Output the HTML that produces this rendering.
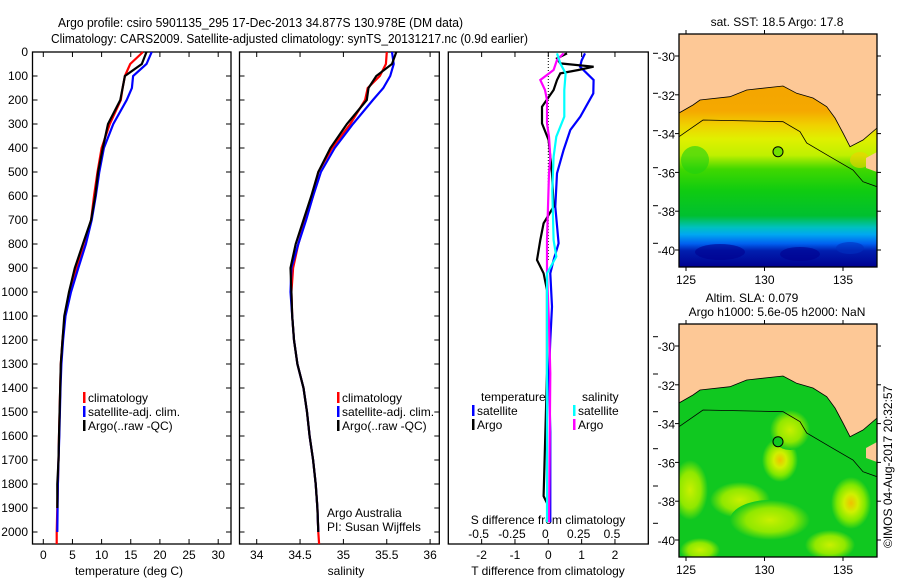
<!DOCTYPE html>
<html><head><meta charset="utf-8">
<style>
html,body{margin:0;padding:0;background:#fff;}
svg{display:block;font-family:"Liberation Sans",sans-serif;}
text{fill:#000;}
</style></head>
<body>
<svg id="chart" width="900" height="580" viewBox="0 0 900 580" xmlns="http://www.w3.org/2000/svg">
<text x="58" y="27" font-size="13" textLength="405" lengthAdjust="spacingAndGlyphs">Argo profile: csiro 5901135_295 17-Dec-2013 34.877S 130.978E (DM data)</text>
<text x="51" y="43" font-size="13" textLength="477" lengthAdjust="spacingAndGlyphs">Climatology: CARS2009. Satellite-adjusted climatology: synTS_20131217.nc (0.9d earlier)</text>
<g id="p1"></g>
<g id="p2"></g>
<g id="p3"></g>
<g id="m1"></g>
<g id="m2"></g>
<text transform="translate(892,548) rotate(-90)" font-size="12">©IMOS 04-Aug-2017 20:32:57</text>
</svg>
<script>
// ---------- data ----------
const depthLevels = [0,50,100,150,200,300,400,500,600,700,800,900,1000,1100,1200,1300,1400,1500,1600,1700,1800,1900,2000,2050];
const tempArgo = [17.7,16.9,14.0,13.6,13.2,11.1,10.2,9.4,8.9,8.2,6.8,5.4,4.4,3.6,3.3,3.0,2.9,2.8,2.7,2.6,2.4,2.4,null,null];
const tempClim = [17.1,14.9,14.0,13.6,13.3,11.4,10.0,9.3,8.7,8.2,7.2,5.7,4.6,3.7,3.3,3.0,2.9,2.8,2.7,2.6,2.5,2.4,2.3,2.3];
const tempSat  = [18.6,17.7,15.4,15.2,14.3,12.0,10.4,9.6,9.0,8.3,7.3,6.0,4.75,3.8,3.4,3.1,2.95,2.85,2.75,2.6,2.5,2.45,2.4,null];
const salArgo = [35.61,35.56,35.38,35.29,35.27,35.04,34.85,34.71,34.63,34.54,34.45,34.39,34.40,34.41,34.43,34.47,34.54,34.58,34.61,34.65,34.68,34.70,34.71,null];
const salClim = [35.50,35.49,35.42,35.28,35.25,35.08,34.87,34.71,34.65,34.56,34.48,34.42,34.40,34.41,34.43,34.47,34.54,34.58,34.61,34.65,34.68,34.70,34.71,34.72];
const salSat  = [35.56,35.58,35.54,35.46,35.34,35.11,34.90,34.74,34.65,34.57,34.48,34.40,34.39,34.41,34.43,34.47,34.54,34.58,34.61,34.65,34.68,34.70,34.71,null];
// difference panel
const dTsatDepth = [10,40,66,122,178,276,332,416,514,654,808,878,934,1074,1214,1354,1600,1980];
const dTsat      = [1.1,1.0,0.95,1.36,1.35,0.96,0.66,0.46,0.26,0.21,0.31,0.16,0.06,0.11,0.06,0.02,0.06,0.06];
const dTargoDepth = [10,31,52,66,80,94,122,164,234,304,374,514,654,724,794,878,934,1004,1144,1354,1870,1900];
const dTargo      = [0.56,0.26,0.36,1.36,0.9,0.36,0.26,0.16,-0.19,-0.19,0.01,0.11,0.16,-0.14,-0.24,-0.34,-0.14,-0.04,-0.04,-0.04,-0.14,-0.04];
const dSsatDepth = [10,52,94,164,276,360,444,584,794,864,934,1074,1354,1980];
const dSsat      = [0.065,0.09,0.13,0.12,0.12,0.06,0.04,0.03,0.04,0.06,-0.01,-0.01,-0.01,-0.01];
const dSargoDepth = [10,38,80,122,164,206,304,360,444,514,794,934,1144,1354,1980];
const dSargo      = [0.115,0.065,0.04,-0.06,-0.025,-0.01,-0.01,0.005,0.015,0.005,-0.01,-0.01,0.005,0.015,0.005];
const yTicks = [0,100,200,300,400,500,600,700,800,900,1000,1100,1200,1300,1400,1500,1600,1700,1800,1900,2000];
const tTicks = [0,5,10,15,20,25,30];
const sTicks = [34,34.5,35,35.5,36];
const dTTicks = [-2,-1,0,1,2];
const dSTicks = ["-0.5","-0.25","0","0.25","0.5"];
const latTicks = [-30,-32,-34,-36,-38,-40];
const lonTicks = [125,130,135];

// ---------- helpers ----------
const NS="http://www.w3.org/2000/svg";
function mk(tag,parent,attrs,txt){const e=document.createElementNS(NS,tag);for(const k in attrs)e.setAttribute(k,attrs[k]);if(txt!==undefined)e.textContent=txt;parent.appendChild(e);return e;}
const TOP=52, BOT=544;
const yD = d => TOP + d*(BOT-TOP)/2050;
function frame(g,x0,x1,y0,y1){
  const r=mk('rect',g,{x:x0,y:y0,width:x1-x0,height:y1-y0,fill:'none',stroke:'#000','stroke-width':1.3});
  
  
}
function profile(g,depths,vals,xf,yf,color,name){
  let pts=[];
  for(let i=0;i<depths.length;i++){ if(vals[i]===null||vals[i]===undefined) continue; pts.push(xf(vals[i]).toFixed(1)+','+yf(depths[i]).toFixed(1)); }
  const p=mk('polyline',g,{points:pts.join(' '),fill:'none',stroke:color,'stroke-width':2.2,'stroke-linejoin':'miter'});
  
  
}
function yAxis(g,x0,x1){
  yTicks.forEach(d=>{
    const y=yD(d);
    mk('line',g,{x1:x0,y1:y,x2:x0+5,y2:y,stroke:'#000'});
    mk('line',g,{x1:x1,y1:y,x2:x1-5,y2:y,stroke:'#000'});
  });
}
function legendEntry(g,x,y,color,label,name){
  const r=mk('rect',g,{x:x,y:y-10,width:2.5,height:11,fill:color});
  
  
  const t=mk('text',g,{x:x+5,y:y,'font-size':12},label);
  
  
}

// ---------- panel 1 temperature ----------
(function(){
  const g=document.getElementById('p1');
  const x0=32.5,x1=231, xT=v=>43.3+v*5.83;
  frame(g,x0,x1,TOP,BOT);
  yAxis(g,x0,x1);
  yTicks.forEach(d=>{const t=mk('text',g,{x:28,y:yD(d)+4,'font-size':12,'text-anchor':'end'},String(d));
    });
  tTicks.forEach(v=>{const x=xT(v);
    mk('line',g,{x1:x,y1:BOT,x2:x,y2:BOT-5,stroke:'#000'});mk('line',g,{x1:x,y1:TOP,x2:x,y2:TOP+5,stroke:'#000'});
    const t=mk('text',g,{x:x,y:559,'font-size':12,'text-anchor':'middle'},String(v));
    });
  const xl=mk('text',g,{x:129,y:575,'font-size':12,'text-anchor':'middle'},'temperature (deg C)');
  
  profile(g,depthLevels,tempClim,xT,yD,'#ff0000','climatology-line');
  profile(g,depthLevels,tempSat,xT,yD,'#0000ff','satellite-clim-line');
  profile(g,depthLevels,tempArgo,xT,yD,'#000000','argo-line');
  legendEntry(g,83,402,'#ff0000','climatology','legend-climatology');
  legendEntry(g,83,416,'#0000ff','satellite-adj. clim.','legend-satellite');
  legendEntry(g,83,430,'#000000','Argo(..raw -QC)','legend-argo');
})();

// ---------- panel 2 salinity ----------
(function(){
  const g=document.getElementById('p2');
  const x0=239.5,x1=439.3, xS=v=>256.7+(v-34)*86.7;
  frame(g,x0,x1,TOP,BOT);
  yAxis(g,x0,x1);
  sTicks.forEach(v=>{const x=xS(v);
    mk('line',g,{x1:x,y1:BOT,x2:x,y2:BOT-5,stroke:'#000'});mk('line',g,{x1:x,y1:TOP,x2:x,y2:TOP+5,stroke:'#000'});
    const t=mk('text',g,{x:x,y:559,'font-size':12,'text-anchor':'middle'},String(v));
    });
  const xl=mk('text',g,{x:346,y:575,'font-size':12,'text-anchor':'middle'},'salinity');
  
  profile(g,depthLevels,salClim,xS,yD,'#ff0000','climatology-line');
  profile(g,depthLevels,salSat,xS,yD,'#0000ff','satellite-clim-line');
  profile(g,depthLevels,salArgo,xS,yD,'#000000','argo-line');
  legendEntry(g,337,402,'#ff0000','climatology','legend-climatology');
  legendEntry(g,337,416,'#0000ff','satellite-adj. clim.','legend-satellite');
  legendEntry(g,337,430,'#000000','Argo(..raw -QC)','legend-argo');
  const a=mk('text',g,{x:327,y:517,'font-size':12},'Argo Australia');
  
  const b=mk('text',g,{x:327,y:531,'font-size':12},'PI: Susan Wijffels');
  
})();

// ---------- panel 3 differences ----------
(function(){
  const g=document.getElementById('p3');
  const x0=448.3,x1=648.3,bot=BOT, xT=v=>548.3+v*33.33, xS=v=>548.3+v*133.3;
  const yD3 = d => 51 + d*0.238;
  frame(g,x0,x1,TOP,bot);
  mk('line',g,{x1:548.3,y1:TOP,x2:548.3,y2:260,stroke:'#000','stroke-dasharray':'1,2'});
  dTTicks.forEach((v,i)=>{const x=xT(v);
    mk('line',g,{x1:x,y1:bot,x2:x,y2:bot-5,stroke:'#000'});mk('line',g,{x1:x,y1:TOP,x2:x,y2:TOP+5,stroke:'#000'});
    const t=mk('text',g,{x:x,y:559,'font-size':12,'text-anchor':'middle'},String(v));
    
    const s=mk('text',g,{x:x-3,y:538,'font-size':12,'text-anchor':'middle'},dSTicks[i]);
    });
  [53.3,93.3,130.7,167.7,205.7,243.3,336.7,374,411.7,448.7,486,523.3].forEach(y=>mk('line',g,{x1:653,y1:y,x2:658,y2:y,stroke:'#000'}));
  const st=mk('text',g,{x:548,y:524,'font-size':12,'text-anchor':'middle'},'S difference from climatology');
  
  const tt=mk('text',g,{x:548,y:575,'font-size':12,'text-anchor':'middle'},'T difference from climatology');
  
  profile(g,dTsatDepth,dTsat,xT,yD3,'#0000ff','t-satellite-diff-line');
  profile(g,dTargoDepth,dTargo,xT,yD3,'#000000','t-argo-diff-line');
  profile(g,dSargoDepth,dSargo,xS,yD3,'#ff00ff','s-argo-diff-line');
  profile(g,dSsatDepth,dSsat,xS,yD3,'#00ffff','s-satellite-diff-line');
  const h1=mk('text',g,{x:481,y:401,'font-size':12},'temperature');
  
  const h2=mk('text',g,{x:582,y:401,'font-size':12},'salinity');
  
  legendEntry(g,472,415,'#0000ff','satellite','legend-t-satellite');
  legendEntry(g,472,429,'#000000','Argo','legend-t-argo');
  legendEntry(g,573,415,'#00ffff','satellite','legend-s-satellite');
  legendEntry(g,573,429,'#ff00ff','Argo','legend-s-argo');
})();

// ---------- maps ----------
function drawMap(gid,dy,kind){
  const g=document.getElementById(gid);
  const x0=679,x1=877,y0=34+dy,y1=267+dy;
  const lon=v=>686+(v-125)*15.7, lat=v=>56+dy+(-30-v)*19.4;
  const defs=mk('defs',g,{});
  const cid='clip'+gid;
  const cp=mk('clipPath',defs,{id:cid}); mk('rect',cp,{x:x0,y:y0,width:x1-x0,height:y1-y0});
  const inner=mk('g',g,{'clip-path':'url(#'+cid+')'});
  if(kind==='sst'){
    const lg=mk('linearGradient',defs,{id:'sstg',x1:0,y1:0,x2:0,y2:1});
    [[0,'#f0a000'],[0.33,'#f5a800'],[0.39,'#f0d000'],[0.45,'#e0f000'],[0.52,'#c0f000'],[0.58,'#40d800'],[0.67,'#10cc10'],[0.78,'#00c030'],[0.83,'#00c0c0'],[0.86,'#00a8f0'],[0.9,'#0060f0'],[0.93,'#0020b0'],[1,'#000090']].forEach(s=>mk('stop',lg,{offset:s[0],'stop-color':s[1]}));
    const r=mk('rect',inner,{x:x0,y:y0,width:x1-x0,height:y1-y0,fill:'url(#sstg)'});
    
    [[695,160,14,14,'#20d010'],[860,160,10,8,'#f0d000'],[720,252,25,8,'#000090'],[800,254,20,7,'#000090'],[850,248,14,6,'#0030c0']].forEach(b=>mk('ellipse',inner,{cx:b[0],cy:b[1]+dy,rx:b[2],ry:b[3],fill:b[4],opacity:0.6}));
  } else {
    const base=mk('rect',inner,{x:x0,y:y0,width:x1-x0,height:y1-y0,fill:'#10c820'});
    
    const rg=mk('radialGradient',defs,{id:'slag'});
    [[0,'#f0c000'],[0.35,'#d0f000'],[0.7,'#80e800'],[1,'#10c820']].forEach(s=>mk('stop',rg,{offset:s[0],'stop-color':s[1]}));
    const rg2=mk('radialGradient',defs,{id:'slag2'});
    [[0,'#c8f000'],[0.6,'#90e800'],[1,'#10c820']].forEach(s=>mk('stop',rg2,{offset:s[0],'stop-color':s[1]}));
    [[780,460,18,22,'slag'],[851,503,20,26,'slag'],[690,490,18,30,'slag2'],[740,500,30,18,'slag2'],[770,520,40,20,'slag2'],[700,550,20,12,'slag2'],[790,430,20,20,'slag2'],[830,545,25,15,'slag2']].forEach(b=>mk('ellipse',inner,{cx:b[0],cy:b[1],rx:b[2],ry:b[3],fill:'url(#'+b[4]+')'}));
  }
  const coast=[[679,113],[693,105],[700,100],[730,96.7],[746.7,90],[783,86],[796.7,93.3],[813,98],[826.7,106.7],[835,118],[843,133],[850,146.7],[863,140],[877,128]];
  const pts=[[x0,y0]].concat(coast.map(p=>[p[0],p[1]+dy])).concat([[x1,y0]]);
  const land=mk('polygon',inner,{points:pts.map(p=>p.join(',')).join(' '),fill:'#fdc896',stroke:'#000','stroke-width':0.8});
  
  mk('polygon',inner,{points:[[866,158+dy],[877,152+dy],[877,172+dy],[866,168+dy]].map(p=>p.join(',')).join(' '),fill:'#fdc896'});
  const cont=[[679,136.7],[703,120],[783,121.7],[800,131.7],[806.7,143],[830,156.7],[853,170],[863,181.7],[877,186.7]];
  const iso=mk('polyline',inner,{points:cont.map(p=>p[0]+','+(p[1]+dy)).join(' '),fill:'none',stroke:'#000','stroke-width':0.8});
  
  const c=mk('circle',inner,{cx:778,cy:151.7+dy,r:5,fill:kind==='sst'?'#70e000':'#10c820',stroke:'#000','stroke-width':1});
  
  frame(g,x0,x1,y0,y1);
  latTicks.forEach(v=>{const y=lat(v);
    mk('line',g,{x1:x0,y1:y,x2:x0-4,y2:y,stroke:'#000'});mk('line',g,{x1:x1,y1:y,x2:x1+4,y2:y,stroke:'#000'});
    const t=mk('text',g,{x:675,y:y+5,'font-size':12,'text-anchor':'end'},String(v));
    });
  lonTicks.forEach(v=>{const x=lon(v);
    mk('line',g,{x1:x,y1:y0,x2:x,y2:y0-4,stroke:'#000'});mk('line',g,{x1:x,y1:y1,x2:x,y2:y1+4,stroke:'#000'});
    const t=mk('text',g,{x:x,y:y1+17,'font-size':12,'text-anchor':'middle'},String(v));
    });
}
drawMap('m1',0,'sst');
drawMap('m2',290,'sla');
(function(){
  const s=document.getElementById('chart');
  const a=mk('text',s,{x:777,y:26,'font-size':12,'text-anchor':'middle'},'sat. SST: 18.5 Argo: 17.8');
  
  const b=mk('text',s,{x:752,y:302,'font-size':12,'text-anchor':'middle'},'Altim. SLA: 0.079');
  
  const c=mk('text',s,{x:777,y:316,'font-size':12,'text-anchor':'middle'},'Argo h1000: 5.6e-05 h2000: NaN');
  
})();
</script>
</body></html>
